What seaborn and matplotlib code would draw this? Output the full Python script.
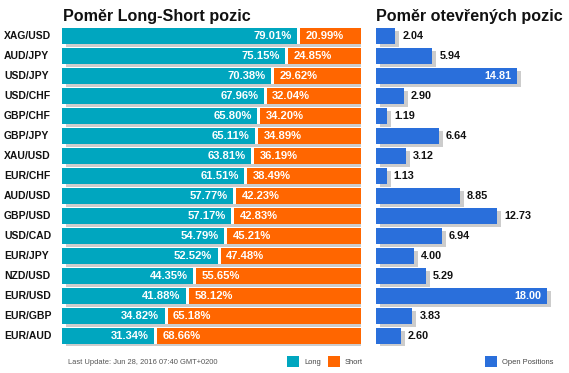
import matplotlib
matplotlib.use("Agg")
import matplotlib.pyplot as plt
import matplotlib.patheffects as pe
import matplotlib.transforms as mtrans
from matplotlib.patches import Rectangle
import seaborn as sns
import pandas as pd

pairs = ["XAG/USD", "AUD/JPY", "USD/JPY", "USD/CHF", "GBP/CHF", "GBP/JPY", "XAU/USD",
         "EUR/CHF", "AUD/USD", "GBP/USD", "USD/CAD", "EUR/JPY", "NZD/USD", "EUR/USD",
         "EUR/GBP", "EUR/AUD"]
long_pct = [79.01, 75.15, 70.38, 67.96, 65.80, 65.11, 63.81, 61.51, 57.77, 57.17,
            54.79, 52.52, 44.35, 41.88, 34.82, 31.34]
short_pct = [20.99, 24.85, 29.62, 32.04, 34.20, 34.89, 36.19, 38.49, 42.23, 42.83,
             45.21, 47.48, 55.65, 58.12, 65.18, 68.66]
open_pos = [2.04, 5.94, 14.81, 2.90, 1.19, 6.64, 3.12, 1.13, 8.85, 12.73,
            6.94, 4.00, 5.29, 18.00, 3.83, 2.60]

title_left = "Poměr Long-Short pozic"
title_right = "Poměr otevřených pozic"
footer = "Last Update: Jun 28, 2016 07:40 GMT+0200"
legend_long = "Long"
legend_short = "Short"
legend_open = "Open Positions"

TEAL = "#00a6bf"
ORANGE = "#ff6600"
BLUE = "#2a6fdb"
SHADOW = "#cccccc"

sns.set_theme(style="white")
plt.rcParams["font.family"] = ["Liberation Sans", "DejaVu Sans"]

df = pd.DataFrame({"pair": pairs, "long": long_pct, "short": short_pct, "open": open_pos})
df["total"] = df["long"] + df["short"]
df["white"] = df["long"] + 0.5
df["teal"] = df["long"] - 0.5

W, H = 569, 373
fig = plt.figure(figsize=(W / 100, H / 100), dpi=100)
fig.patch.set_facecolor("white")

top_px, bot_px = 26, 346
axL = fig.add_axes([62 / W, 1 - bot_px / H, 299 / W, (bot_px - top_px) / H])
axR = fig.add_axes([376 / W, 1 - bot_px / H, 190 / W, (bot_px - top_px) / H])

shadow = [pe.SimplePatchShadow(offset=(4 * 0.72, -3 * 0.72), shadow_rgbFace=SHADOW, alpha=1.0), pe.Normal()]

# Left panel: stacked long/short
sns.barplot(data=df, x="total", y="pair", orient="h", color=ORANGE, saturation=1,
            width=0.8, ax=axL, linewidth=0)
for p in list(axL.patches):
    p.set_path_effects(shadow)
sns.barplot(data=df, x="white", y="pair", orient="h", color="white", saturation=1,
            width=0.8, ax=axL, linewidth=0)
sns.barplot(data=df, x="teal", y="pair", orient="h", color=TEAL, saturation=1,
            width=0.8, ax=axL, linewidth=0)

# Right panel: open positions
sns.barplot(data=df, x="open", y="pair", orient="h", color=BLUE, saturation=1,
            width=0.8, ax=axR, linewidth=0)
for p in axR.patches:
    p.set_path_effects(shadow)

for ax, xmax in ((axL, 100), (axR, 20)):
    ax.set_xlim(0, xmax)
    ax.set_ylim(15.5, -0.5)
    ax.axis("off")

lab_tr = mtrans.blended_transform_factory(fig.transFigure, axL.transData)
for i, row in df.iterrows():
    axL.text(4 / W, i, row["pair"], transform=lab_tr, ha="left", va="center",
             fontsize=7.5, fontweight="bold", color="#111111")
    axL.annotate(f"{row['long']:.2f}%", (row["long"], i), xytext=(-5.0, 0),
                 textcoords="offset points", ha="right", va="center",
                 fontsize=8.1, fontweight="bold", color="white")
    axL.annotate(f"{row['short']:.2f}%", (row["long"], i), xytext=(5.0, 0),
                 textcoords="offset points", ha="left", va="center",
                 fontsize=8.1, fontweight="bold", color="white")
    v = row["open"]
    if v > 14:
        axR.annotate(f"{v:.2f}", (v, i), xytext=(-4, 0), textcoords="offset points",
                     ha="right", va="center", fontsize=7.8, fontweight="bold", color="white")
    else:
        axR.annotate(f"{v:.2f}", (v, i), xytext=(5, 0), textcoords="offset points",
                     ha="left", va="center", fontsize=7.8, fontweight="bold", color="#111111")

fig.text(63 / W, 1 - 21 / H, title_left, ha="left", va="baseline",
         fontsize=11.6, fontweight="bold", color="#111111")
fig.text(376 / W, 1 - 21 / H, title_right, ha="left", va="baseline",
         fontsize=11.6, fontweight="bold", color="#111111")

fig.text(68 / W, 1 - 363 / H, footer, ha="left", va="center", fontsize=5.4, color="#555555")

def legend_item(x0, color, label):
    fig.patches.append(Rectangle((x0 / W, 1 - 367 / H), 12 / W, 11 / H,
                                 transform=fig.transFigure, facecolor=color,
                                 edgecolor="none"))
    fig.text((x0 + 17) / W, 1 - 362 / H, label, ha="left", va="center",
             fontsize=5.4, color="#444444")

legend_item(287, TEAL, legend_long)
legend_item(328, ORANGE, legend_short)
legend_item(485, BLUE, legend_open)

fig.savefig("out.png", dpi=100, facecolor="white")
